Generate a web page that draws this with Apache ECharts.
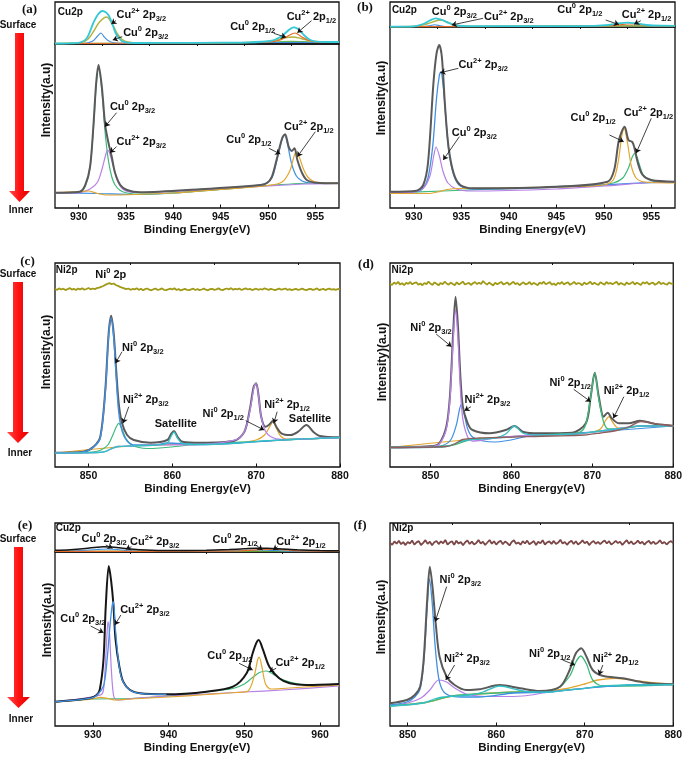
<!DOCTYPE html>
<html>
<head>
<meta charset="utf-8">
<script src="https://cdn.jsdelivr.net/npm/echarts@6/dist/echarts.min.js"></script>
<style>
html, body { margin: 0; padding: 0; background: #fff; }
#main { width: 685px; height: 757px; }
</style>
</head>
<body>
<div id="main"></div>
<script>
// tick labels
var ticksCu = [930, 935, 940, 945, 950, 955];
var minorCu = [932.5, 937.5, 942.5, 947.5, 952.5];
var ticksNi = [850, 860, 870, 880];
var minorNi = [855, 865, 875];
var ticksCuE = [930, 940, 950, 960];
var minorCuE = [935, 945, 955];

// (a) surface strip
var aTopSum = [[927.5,0.5],[929,0.7],[930,1.2],[930.85,5.7],[931.55,21],[932,29],[932.5,33],[932.9,31.5],[933.2,28],[933.6,19],[933.9,11],[934.3,5.5],[934.6,2.8],[935.2,1.4],[936.5,1],[940,1.1],[945,1.3],[948,1.6],[950.2,3],[951,5.5],[951.6,9],[952.2,14],[952.7,16.7],[953.1,15.5],[953.5,12],[953.9,8],[954.3,5],[954.8,3],[955.5,2.2],[957.5,2]];
var aTopOlive = [[927.5,0.5],[929,0.7],[930.3,1.5],[931,5],[931.6,13],[932.2,22],[932.95,27],[933.6,19],[934.1,10],[934.6,4.5],[935.2,2],[936.5,1],[940,1.1],[945,1.3],[948,1.6],[950.5,3],[951.5,5.5],[952.6,7],[953.5,5.5],[954.5,3],[955.5,2.2],[957.5,2]];
var aTopBlue = [[927.5,0.4],[930.5,0.5],[931.5,3],[932,8],[932.35,11],[932.7,7],[933.1,3.5],[933.6,1.5],[934.5,0.6],[940,0.8],[950,1.5],[957.5,1.8]];
var aTopOrange = [[927.5,0.4],[940,1],[948,1.5],[950,1.8],[951.3,4],[952.2,8.5],[952.85,11],[953.5,7.5],[954.2,4],[955,2.4],[956,2],[957.5,2]];
var aTopGreen = [[927.5,0.4],[935,0.7],[945,1.2],[950,1.8],[952.5,2.6],[955,2],[957.5,2]];
// (a) inner
var aInSum = [[927.5,15.3],[930.1,16.3],[930.7,23],[931.2,41],[931.55,81],[931.85,125],[932.1,143],[932.45,121],[932.8,83],[933.15,65],[933.5,51],[933.85,35],[934.4,23],[935.1,18],[936.5,15.7],[942.8,18.7],[949.2,23],[949.9,25],[950.4,31],[950.9,48],[951.5,70],[951.8,73.7],[952.2,61],[952.5,57],[952.8,59.7],[953.1,48],[953.6,35],[954.1,28],[955.1,25.3],[957.5,24.7]];
var aInGreen = [[927.5,15.3],[930.1,15.8],[930.7,22],[931.2,40],[931.55,79],[931.85,122],[932.1,140],[932.45,117],[932.8,75],[933.15,47],[933.5,31],[933.85,23],[934.4,17.5],[935.1,15],[936.5,13.8],[940,15],[945,18.5],[950,22.5],[955,25],[957.5,25]];
var aInPurple = [[927.5,15],[929.9,15.2],[931.2,19],[932,26],[932.5,40],[932.85,53],[933.05,58],[933.3,54],[933.7,40],[934.2,25],[934.8,18],[936,15.5],[940,16.5],[945,19],[950,22],[954,24],[957.5,24.7]];
var aInBlue = [[927.5,15.3],[932,14.5],[936,13.5],[940,15],[944,18],[947,21],[949.5,24],[950.4,30],[950.9,46],[951.5,69],[951.75,73],[952.1,62],[952.5,44],[953,32],[953.6,27],[954.5,25],[957.5,24.5]];
var aInOrange = [[927.5,15.3],[930,16.3],[931,17],[932,14.5],[933,13],[936,13.5],[940,15],[945,18.5],[950,22.5],[951.5,26],[952.3,37],[952.7,50],[952.95,56],[953.3,51],[953.7,40],[954.2,31],[955,26],[957.5,25]];

// (b) surface strip
var bTopSum = [[927.5,0.3],[930,0.7],[931,3],[931.7,6.5],[932.3,8.7],[933,7],[933.7,4],[934.5,1.5],[936,0.8],[945,0.9],[949,1.2],[950.5,2],[951.5,3.5],[952.5,4.3],[953.5,3.5],[954.5,2],[956,1.3],[957.5,1.2]];
var bTopOlive = [[927.5,0.3],[929.5,0.5],[930.5,1],[931.5,3.5],[932.3,6],[932.8,7],[933.5,5],[934.3,2],[935.5,0.8],[937,0.6],[950,1],[957.5,1.2]];
var bTopBlue = [[927.5,0.3],[931,0.5],[931.7,1.3],[932.2,2.2],[932.8,1.2],[933.5,0.4],[945,0.8],[957.5,1.1]];
var bTopOrange = [[927.5,0.3],[940,0.6],[950,1],[951.5,2],[952.5,3],[953.3,3],[954.3,2],[955.5,1.3],[957.5,1.2]];
var bTopGreen = [[927.5,0.3],[940,0.6],[950,1],[957.5,1.2]];
// (b) inner
var bInSum = [[927.5,16.3],[930.3,17.3],[931,23],[931.5,45],[932.07,124.7],[932.4,154.7],[932.68,163],[932.96,151],[933.3,101],[933.66,61],[934.2,34.7],[934.9,23],[936.3,19.7],[945,21.3],[950.4,26.3],[951.1,38],[951.6,68],[952.2,81.3],[952.6,68],[953,66],[953.2,61.3],[953.6,44.7],[954.1,33],[955,28],[957.5,26.3]];
var bInBlue = [[927.5,16],[930.3,16.5],[931,20],[931.5,30],[932,62],[932.4,110],[932.7,133],[932.85,136],[933.1,122],[933.4,88],[933.7,57],[934.2,33],[934.9,22],[936.3,19],[940,19.3],[945,21],[950,23],[955,25.5],[957.5,26]];
var bInPurple = [[927.5,15.5],[929.5,15.5],[931,20],[931.7,32],[932.1,52],[932.35,61],[932.7,52],[933.1,36],[933.6,25],[934.5,19],[936,17],[945,19],[950,22],[955,25.5],[957.5,26]];
var bInOrange = [[927.5,14.5],[931.5,14.5],[932.5,16],[933.5,18.5],[935,19.5],[945,21],[950,23],[951,28],[951.5,45],[951.9,72],[952.15,79.7],[952.5,65],[952.9,42],[953.4,30],[954,26.5],[955,25.5],[957.5,25]];
var bInGreen = [[927.5,15],[933,17],[940,19.5],[945,21],[949,22.5],[951,25],[952,30],[952.6,40],[953,51],[953.3,54.7],[953.7,45],[954.1,34],[954.8,28],[956,26],[957.5,26]];

// (c)
var cSum = [[846,14.3],[849.4,15.3],[850.6,20.3],[851.4,30.3],[852,77],[852.4,133.7],[852.7,151.3],[853,133.7],[853.3,97],[853.6,63.7],[854,43.7],[854.6,32],[855.4,27],[857.4,24.3],[859.4,27],[859.9,33.7],[860.2,36],[860.6,30.3],[861.2,25.3],[863.4,24.3],[867.4,26.3],[868.6,35.3],[869.3,60.3],[869.7,80.3],[870,83.7],[870.3,70.3],[870.6,50.3],[871.1,40.3],[871.5,42],[872,46],[872.4,40.3],[873,33.7],[874.1,32],[875,35.3],[876,42],[876.8,35.3],[877.6,31],[880,29.7]];
var cBlue = [[846,14],[849.4,15],[850.6,20],[851.4,29],[852,75],[852.4,131],[852.7,149],[853,130],[853.3,90],[853.6,55],[854,36],[854.6,26],[855.4,22],[858,22],[859.4,24],[863,22.5],[868,24],[873,27],[877,28.5],[880,29.5]];
var cGreen = [[846,13.8],[850.5,15],[851.5,17],[852.3,22],[852.9,32],[853.3,40],[853.6,43.7],[854,38],[854.5,28],[855.2,22],[856,19.5],[857,18.5],[863,22.5],[870,25.5],[880,29.5]];
var cTeal = [[846,13.8],[851,14.5],[852,15.5],[852.6,18],[853.5,20.5],[855,21],[858,22],[859.4,24],[859.9,31.5],[860.2,35],[860.6,29],[861.2,23.5],[863,22.5],[868,24],[870,25.5],[873,27],[875,28],[877,28.5],[880,29.5]];
var cPurple = [[846,13.8],[851,14.5],[852,15.5],[853.5,20.5],[855,21],[858,22],[863,22.5],[866,24.5],[868,29],[868.8,40],[869.4,63],[869.75,80],[870,83.7],[870.3,70],[870.6,50],[871.1,36],[871.8,30],[873,27.5],[875,28],[877,28.5],[880,29.5]];
var cOrange = [[846,14],[855,21],[862,23],[868,24.5],[870,27],[871,32],[871.6,40],[872,45],[872.4,39],[872.9,31],[873.6,28],[875,28],[880,29.5]];
var cNoise = [178.0,177.2,178.6,177.5,178.3,176.9,177.8,178.9,177.4,178.1,
 177.0,178.4,177.6,178.8,177.3,178.0,179.0,177.7,178.5,177.9,
 178.8,179.4,180.2,181.0,182.1,183.2,183.8,182.9,183.5,182.0,
 181.2,180.1,179.3,178.6,177.8,178.5,177.2,178.0,177.6,178.7,
 177.1,178.2,176.8,177.9,178.5,177.3,176.7,177.8,178.4,177.0,
 177.6,178.6,177.2,176.9,177.7,178.3,177.5,178.8,177.0,177.9,
 176.6,177.4,178.1,177.2,176.8,177.6,178.3,177.0,177.8,176.9,
 177.5,178.4,177.3,176.7,177.9,178.2,177.1,177.7,178.6,177.4,
 176.9,177.8,178.5,177.6,178.9,177.3,178.1,177.7,178.4,177.0,
 177.9,178.6,177.5,178.2,176.9,177.6,178.3,177.2,178.0,177.4,
 178.7,177.8,177.1,178.2,177.5,176.8,177.7,178.4,177.3,177.9,
 178.5,177.1,177.8,176.9,177.6,178.2,177.0,177.7,178.3,177.4,
 176.8,177.9,178.1,177.2,177.7,178.6,177.0,177.5,178.2,176.9,
 177.8,178.4,177.3,177.9,177.1,178.0,177.6];

// (d)
var dSum = [[845,19.7],[850.3,21],[851.1,23.7],[851.96,40.3],[852.4,70.3],[852.8,133.7],[853.1,170.3],[853.4,140.3],[853.7,90.3],[854,60.3],[854.6,43.7],[855.2,37],[857.3,33.7],[859.3,37],[860.4,41],[861.4,35.3],[863.4,33.7],[867.5,34.3],[869.2,43.7],[869.8,70.3],[870.3,94.3],[870.8,70.3],[871.4,50.3],[871.9,54.3],[872.4,48.7],[873.3,43.7],[874.5,43.7],[875.9,46.3],[877.8,43],[880,41.3]];
var dPurple = [[845,19.5],[850.3,20.5],[851.1,23],[851.96,38],[852.4,67],[852.8,125],[853.1,157.7],[853.4,128],[853.7,78],[854,48],[854.6,30],[855.2,26],[856.5,27],[858,29],[863,32],[868,33],[872,37],[876,41],[880,41]];
var dBlue = [[845,19.5],[850,20],[851.5,21.5],[852.5,27],[853.2,42],[853.6,58],[853.85,63],[854.2,52],[854.6,38],[855.2,30],[856.5,26],[858,25],[863,32],[870,35],[880,41]];
var dTeal = [[845,19.5],[851.5,20],[852.5,21.5],[853.5,25],[855,27.5],[858,29],[859.3,33],[860.4,41],[861.4,34],[863,32],[868,33],[870,35],[872,37],[874,39],[876,41],[878,41],[880,41]];
var dBrown = [[845,19.5],[852,20.5],[853,23],[854,27.5],[856,29],[865,31],[869,32],[871,34],[873,36.5],[874.5,40],[876,45.5],[878,43],[880,41]];
var dGreen = [[845,19.5],[852.5,21.5],[855,27.5],[858,29],[863,32],[866,33],[868.5,35],[869.2,43],[869.8,70],[870.3,94],[870.8,68],[871.4,45],[872,38],[873,38],[876,41],[880,41]];
var dOrange = [[845,19.5],[855,27.5],[863,32],[868,33],[870,35],[871,38],[871.6,46],[872.05,50.3],[872.5,45],[873.2,39],[874,39],[876,41],[880,41]];
var dNoise = [183.2,182.0,184.5,183.0,185.1,182.4,183.8,181.9,184.2,183.1,
 185.0,182.7,183.9,184.8,182.2,183.5,181.8,184.0,182.9,185.3,
 183.4,182.1,184.6,183.2,181.7,184.1,182.8,185.2,183.6,182.3,
 184.4,183.0,181.9,184.7,182.6,183.8,185.4,182.5,183.3,184.2,
 182.0,183.7,185.0,182.9,184.3,183.1,186.0,183.9,182.4,184.5,
 183.0,181.6,184.2,182.8,183.9,185.1,182.7,183.4,184.6,182.1,
 183.8,185.2,182.9,184.0,181.8,183.5,184.7,182.6,183.3,185.0,
 182.4,184.1,183.0,181.9,184.4,183.2,185.3,182.7,183.8,184.9,
 182.3,183.6,181.7,184.2,183.1,185.0,182.5,183.9,184.6,182.2,
 183.4,185.1,182.8,184.0,183.3,181.8,184.5,182.9,183.7,185.2,
 182.6,184.3,183.0,182.1,184.8,183.5,182.4,185.0,183.2,184.1,
 182.7,183.9,185.3,182.3,184.0,183.1,181.9,184.6,182.8,183.6,
 185.1,182.5,184.2,183.3,182.0,184.7,183.4,185.0,182.6,183.8,
 184.4,182.2,183.5,185.2,182.9,184.1,183.0,182.4,184.6,183.3,
 182.8];

// (e) surface strip
var eTopSum = [[925,1.8],[927,2.3],[929,3.5],[930.5,4.8],[931.4,5.3],[932.5,5],[933.5,4.2],[935,3],[937,2],[940,1.5],[945,1.8],[948,2.5],[950,3.2],[951.5,3.8],[953,3.7],[955,3],[957,2.2],[960,1.5],[962.5,1.2]];
var eTopBlue = [[925,0.6],[926,0.8],[928.5,1.5],[930.5,2.5],[932,3],[933.5,2.3],[935,1.2],[937,0.7],[947,0.8],[950,1.5],[952,2],[954,1.5],[956,0.8],[962.5,0.9]];
var eTopOrange = [[925,0.6],[945,0.8],[949,1],[951,1.8],[952.5,2.5],[954,2.8],[955.5,2],[957.5,1.1],[962.5,0.9]];
var eTopGreen = [[925,0.6],[945,0.8],[962.5,0.9]];
// (e) inner
var eInSum = [[925,24.3],[929.6,27.7],[930.5,31],[930.9,36],[931.4,66],[931.7,119.3],[932.1,160],[932.4,146],[932.7,122.7],[933,86],[933.5,59.3],[934,44.3],[934.9,36],[936.2,32.7],[939.7,31.7],[945,34.3],[948.5,39.3],[950.3,52.7],[951.1,72.7],[951.6,83.3],[951.9,86],[952.4,77.7],[953.3,59.3],[954.6,47.7],[956,42.7],[958.2,41],[962.5,42]];
var eInPurple = [[925,24],[930.5,30],[931.3,33],[931.6,55],[931.85,90],[932,104.3],[932.2,92],[932.45,55],[932.75,30],[933.2,26],[936,28],[940,30],[945,32],[950,34],[955,36],[962.5,40]];
var eInBlue = [[925,24.2],[929.6,27.6],[930.5,30.5],[931.4,40],[931.8,60],[932.2,95],[932.5,118],[932.7,124.3],[933,95],[933.5,58],[934,44],[934.9,35.8],[936.2,32.6],[939.7,31.7]];
var eInOrange = [[925,24],[930,27],[931,28.7],[932,27.5],[933,26],[935,27],[940,29],[945,31.5],[949,33.5],[950.5,35],[951.3,50],[951.75,66],[951.95,69],[952.3,60],[952.8,42],[953.5,37],[955,37.5],[958,39],[962.5,41]];
var eInGreen = [[925,24],[930,27],[935,27.5],[940,30],[946,35],[948.5,37.5],[950,42],[951,48],[952,53.5],[952.9,55],[954,51],[955,46.5],[956.5,43],[958.2,41],[962.5,42]];

// (f)
var fSum = [[848,22.7],[849.9,26],[850.8,31],[851.4,39.3],[851.8,66],[852.2,126],[852.5,159.3],[852.8,139.3],[853.2,99.3],[853.6,69.3],[854.4,49.3],[855.3,41],[856.6,36],[858.1,36.7],[860.4,41],[862.7,37.7],[864.9,35],[867.2,39.3],[868.3,56],[869,72.7],[869.6,77.7],[870.2,69.3],[870.9,56],[872,50.3],[874.3,47.7],[876.9,43.3],[880,41.7]];
var fBlue = [[848,21],[849.9,24],[850.8,29],[851.4,37],[851.8,62],[852.2,118],[852.45,147],[852.75,125],[853.1,80],[853.5,48],[854,35],[854.8,30],[856,29],[858,29],[862,33],[866,34],[870,37.7],[875,41],[880,41.5]];
var fPurple = [[848,20.5],[850,23],[851.5,28],[852.5,36],[853.5,46],[854.4,44],[855.3,38],[856.6,32],[858,30],[860,29.5],[863,30],[866,34],[870,37.7],[875,41],[880,41.5]];
var fTeal = [[848,20],[851,22],[852,23.5],[853,27],[854,29],[857,31],[858.5,34],[860.4,40],[862.5,36],[864,34],[866,34],[868,36],[870,37.7],[872,40],[875,41],[880,41.5]];
var fGreen = [[848,20],[852,23.5],[855,30],[860,33],[863,34],[865,34],[867,38],[868.3,50],[869,64],[869.55,70],[870.2,62],[870.9,46],[872,40],[874,40],[880,41.5]];
var fOrange = [[848,20],[852,23.5],[855,30],[858,32],[862,34],[866,35],[868,37.5],[870,42],[871.5,46],[873.5,47.7],[876,45],[878,43],[880,42]];
var fNoise = [183.0,181.2,184.6,182.3,185.2,181.8,183.9,180.9,184.1,182.5,
 185.5,181.4,183.6,184.9,181.0,183.2,185.8,182.1,184.3,180.8,
 183.7,185.0,181.9,184.6,182.7,186.1,181.5,183.4,184.8,181.2,
 185.3,182.4,184.0,180.7,183.8,185.6,182.0,184.4,181.6,183.1,
 185.9,182.6,184.2,181.1,183.5,186.0,182.3,184.7,181.4,183.9,
 185.2,181.8,184.5,182.9,180.6,184.1,185.7,182.2,183.6,181.3,
 184.8,182.5,185.4,181.7,183.3,184.9,181.0,184.3,182.8,185.8,
 181.5,183.7,184.6,182.1,185.1,181.9,183.4,186.2,182.4,184.0,
 181.2,183.8,185.3,182.0,184.7,181.6,183.2,185.6,182.7,184.4,
 180.9,183.5,185.0,182.2,184.1,181.8,183.9,185.5,182.5,184.8,
 181.4,183.1,185.2,182.9,184.3,181.1,183.6,185.9,182.3,184.6,
 181.7,183.0,185.4,182.6,184.2,181.3,183.8,185.1,182.1,184.5,
 181.9,183.3,185.7,182.4,184.0,181.5,183.7,184.9,182.8];

var FONT = '"Liberation Sans", Arial, sans-serif';
var COL = {
    sum: '#5a5a5a', black: '#161616', green: '#3dba7a', purple: '#b681e6', blue: '#3f8fe2',
    orange: '#e2a630', teal: '#33bfc4', brown: '#8e5d5d', cyan: '#35c8d6', olive: '#b3b13a',
    lime: '#6cbf3a', noise: '#a19a16', noiseF: '#7b4747'
};

function seq(start, step, vals) {
    return vals.map(function (v, i) { return [+(start + i * step).toFixed(2), v]; });
}

// grid boxes
var panels = [
    {l: 55, t: 2, w: 284, h: 42, x: [927.5, 957.5]},
    {l: 55, t: 44, w: 284, h: 164, x: [927.5, 957.5], ticks: ticksCu, minor: minorCu},
    {l: 390, t: 2, w: 285, h: 25, x: [927.5, 957.5]},
    {l: 390, t: 27, w: 285, h: 181, x: [927.5, 957.5], ticks: ticksCu, minor: minorCu},
    {l: 55, t: 263, w: 285, h: 204, x: [846, 880], ticks: ticksNi, minor: minorNi},
    {l: 390, t: 263, w: 285, h: 204, x: [845, 880], ticks: ticksNi, minor: minorNi},
    {l: 55, t: 523, w: 284, h: 29, x: [925, 962.5]},
    {l: 55, t: 552, w: 284, h: 174, x: [925, 962.5], ticks: ticksCuE, minor: minorCuE, gap: 16},
    {l: 390, t: 523, w: 285, h: 203, x: [848, 880], ticks: ticksNi, minor: minorNi}
];

var grids = [], xAxes = [], yAxes = [];
panels.forEach(function (p, i) {
    grids.push({left: p.l, top: p.t, width: p.w, height: p.h, show: true,
        borderColor: '#111', borderWidth: 1.3, backgroundColor: 'transparent'});
    yAxes.push({gridIndex: i, type: 'value', min: 0, max: p.h, show: false});
    if (p.ticks) {
        xAxes.push({gridIndex: i, type: 'value', min: p.x[0], max: p.x[1],
            axisLine: {show: false}, splitLine: {show: false},
            axisTick: {show: true, inside: true, length: 3.5, customValues: p.ticks, lineStyle: {color: '#111', width: 1}},
            axisLabel: {customValues: p.ticks, margin: 4, fontSize: 10.5, fontWeight: 'bold', color: '#111', fontFamily: FONT},
            name: 'Binding Energy(eV)', nameLocation: 'middle', nameGap: p.gap || 15,
            nameTextStyle: {fontSize: 11.5, fontWeight: 'bold', color: '#111', fontFamily: FONT}});
    } else {
        xAxes.push({gridIndex: i, type: 'value', min: p.x[0], max: p.x[1], show: false});
    }
});
// minor ticks on their own axes
panels.forEach(function (p, i) {
    if (!p.minor) return;
    xAxes.push({gridIndex: i, type: 'value', min: p.x[0], max: p.x[1],
        axisLine: {show: false}, splitLine: {show: false}, axisLabel: {show: false},
        axisTick: {show: true, inside: true, length: 2, customValues: p.minor, lineStyle: {color: '#111', width: 1}}});
});

var series = [];
function curve(g, data, color, width, z, sharp) {
    var s = {type: 'line', xAxisIndex: g, yAxisIndex: g, data: data, symbol: 'none',
        smooth: sharp ? false : 0.3, lineStyle: {color: color, width: width || 1.2},
        z: z || 2, silent: true};
    series.push(s);
    return s;
}

var RICH = {
    m: {fontSize: 11, fontWeight: 'bold', fontFamily: FONT, color: '#111', lineHeight: 16},
    n: {fontSize: 10, fontWeight: 'bold', fontFamily: FONT, color: '#111', lineHeight: 16},
    sp: {fontSize: 7.5, fontWeight: 'bold', fontFamily: FONT, color: '#111', lineHeight: 16, verticalAlign: 'top'},
    sb: {fontSize: 7.5, fontWeight: 'bold', fontFamily: FONT, color: '#111', lineHeight: 16, verticalAlign: 'bottom'}
};
function lab(el, sup, sub) {
    return '{m|' + el + '}{sp|' + sup + '}{m| 2p}' + (sub ? '{sb|' + sub + '}' : '');
}
function notes(s, list) {
    s.markPoint = {symbol: 'circle', symbolSize: 0, silent: true, animation: false,
        label: {show: true, position: 'right', distance: 0, rich: RICH},
        data: list.map(function (n) { return {coord: n.at, label: {formatter: n.t}}; })};
    var arrows = list.filter(function (n) { return n.from; });
    s.markLine = {symbol: ['none', 'arrow'], symbolSize: 5, silent: true, animation: false,
        label: {show: false}, lineStyle: {color: '#111', width: 0.8, type: 'solid'},
        data: arrows.map(function (n) { return [{coord: n.from}, {coord: n.to}]; })};
}

// (a)
curve(0, aTopGreen, COL.lime, 1.2);
curve(0, aTopBlue, COL.blue, 1.1);
curve(0, aTopOlive, COL.olive, 1.4);
curve(0, aTopOrange, '#e56a2a', 1.2);
notes(curve(0, aTopSum, COL.cyan, 1.8, 3), [
    {t: '{n|Cu2p}', at: [927.8, 32]},
    {t: lab('Cu', '2+', '3/2'), at: [934.0, 29], from: [933.95, 23.5], to: [933.45, 20]},
    {t: lab('Cu', '0', '3/2'), at: [934.7, 10.7], from: [934.6, 7.3], to: [933.6, 4]},
    {t: lab('Cu', '0', '1/2'), at: [946.0, 17.3], from: [950.6, 10.7], to: [951.9, 6.7]},
    {t: lab('Cu', '2+', '1/2'), at: [951.97, 27.3], from: [954.6, 23.3], to: [953.1, 11.3]}
]);
curve(1, aInBlue, COL.blue, 1.2);
curve(1, aInGreen, COL.green, 1.2);
curve(1, aInPurple, COL.purple, 1.2);
curve(1, aInOrange, COL.orange, 1.2);
notes(curve(1, aInSum, COL.sum, 2, 3), [
    {t: lab('Cu', '0', '3/2'), at: [933.3, 101.3], from: [934.0, 95.3], to: [932.78, 81.3]},
    {t: lab('Cu', '2+', '3/2'), at: [934.0, 66.3], from: [934.0, 61.3], to: [933.3, 55.3]},
    {t: lab('Cu', '0', '1/2'), at: [945.6, 68], from: [950.1, 59.7], to: [951.3, 54]},
    {t: lab('Cu', '2+', '1/2'), at: [951.7, 81.3], from: [955, 76.3], to: [953.1, 51.3]}
]);

// (b)
curve(2, bTopGreen, COL.lime, 1.2);
curve(2, bTopBlue, COL.blue, 1.1);
curve(2, bTopOlive, COL.olive, 1.4);
curve(2, bTopOrange, '#e56a2a', 1.2);
notes(curve(2, bTopSum, COL.cyan, 1.8, 3), [
    {t: '{n|Cu2p}', at: [927.7, 17]},
    {t: lab('Cu', '0', '3/2'), at: [931.9, 15.3]},
    {t: lab('Cu', '2+', '3/2'), at: [937.4, 10.3], from: [937.3, 8.7], to: [934.0, 2]},
    {t: lab('Cu', '0', '1/2'), at: [945.1, 17], from: [950.2, 7], to: [951.6, 2.5]},
    {t: lab('Cu', '2+', '1/2'), at: [951.9, 12], from: [953.9, 6.3], to: [953.2, 2.8]}
]);
curve(3, bInGreen, COL.green, 1.2);
curve(3, bInBlue, COL.blue, 1.3);
curve(3, bInPurple, COL.purple, 1.2);
curve(3, bInOrange, COL.orange, 1.2);
notes(curve(3, bInSum, COL.sum, 2, 3), [
    {t: lab('Cu', '2+', '3/2'), at: [934.7, 143], from: [934.7, 139.7], to: [932.8, 135.3]},
    {t: lab('Cu', '0', '3/2'), at: [934.0, 74.7], from: [934.8, 71.3], to: [933.1, 48]},
    {t: lab('Cu', '0', '1/2'), at: [946.5, 89.7], from: [950.6, 73], to: [952.1, 66.3]},
    {t: lab('Cu', '2+', '1/2'), at: [952.1, 94.7], from: [955.0, 89.7], to: [953.4, 54.7]}
]);

// (c)
curve(4, seq(846, 0.25, cNoise), COL.noise, 1.8, 2, true);
curve(4, cOrange, COL.orange, 1.2);
curve(4, cGreen, COL.green, 1.2);
notes(curve(4, cSum, COL.sum, 2, 3), [
    {t: '{n|Ni2p}', at: [846.1, 196.3]},
    {t: '{m|Ni}{sp|0}{m| 2p}', at: [850.8, 192]},
    {t: lab('Ni', '0', '3/2'), at: [854.0, 118.7], from: [854.0, 115.3], to: [853.2, 103.7]},
    {t: lab('Ni', '2+', '3/2'), at: [854.1, 67], from: [854.8, 60.3], to: [854.1, 43.7]},
    {t: '{m|Satellite}', at: [857.9, 43]},
    {t: lab('Ni', '0', '1/2'), at: [863.6, 53], from: [868.75, 46.3], to: [870.95, 37]},
    {t: lab('Ni', '2+', '1/2'), at: [870.95, 62], from: [872.5, 55.3], to: [872.1, 43.7]},
    {t: '{m|Satellite}', at: [873.9, 48]}
]);
curve(4, cBlue, COL.blue, 1.4, 3.5);
curve(4, cPurple, COL.purple, 1.3, 3.5);
curve(4, cTeal, COL.teal, 1.3, 4);

// (d)
curve(5, seq(845, 0.25, dNoise), COL.noise, 1.8, 2, true);
curve(5, dOrange, COL.orange, 1.2);
curve(5, dBlue, COL.blue, 1.2);
notes(curve(5, dSum, COL.sum, 2, 3), [
    {t: '{n|Ni2p}', at: [845.2, 196.3]},
    {t: lab('Ni', '0', '3/2'), at: [847.5, 138.7], from: [850.7, 133], to: [852.6, 120.3]},
    {t: lab('Ni', '2+', '3/2'), at: [854.2, 67], from: [855, 60.3], to: [854.2, 56.3]},
    {t: lab('Ni', '0', '1/2'), at: [864.7, 83.7], from: [867.7, 77.7], to: [869.8, 65.3]},
    {t: lab('Ni', '2+', '1/2'), at: [871.4, 76.3], from: [873.9, 70.3], to: [872.6, 48.7]}
]);
curve(5, dGreen, COL.green, 1.3, 3.5);
curve(5, dPurple, COL.purple, 1.3, 3.5);
curve(5, dTeal, COL.teal, 1.3, 4);
curve(5, dBrown, COL.brown, 1.3, 4.5);

// (e)
curve(6, eTopGreen, COL.lime, 1.4);
curve(6, eTopBlue, COL.blue, 1.1);
curve(6, eTopOrange, '#e56a2a', 1.2);
notes(curve(6, eTopSum, COL.black, 1.5, 3), [
    {t: '{n|Cu2p}', at: [925.1, 23.7]},
    {t: lab('Cu', '0', '3/2'), at: [928.5, 12.7], from: [931.7, 7], to: [932.6, 3.7]},
    {t: lab('Cu', '2+', '3/2'), at: [934.9, 10.3], from: [935.1, 5.3], to: [934.35, 2.7]},
    {t: lab('Cu', '0', '1/2'), at: [945.8, 12], from: [951.5, 7], to: [952.4, 2]},
    {t: lab('Cu', '2+', '1/2'), at: [954.2, 10.3], from: [954.4, 5.3], to: [953.8, 2]}
]);
curve(7, eInGreen, COL.green, 1.2);
curve(7, eInPurple, COL.purple, 1.2);
curve(7, eInOrange, COL.orange, 1.2);
notes(curve(7, eInSum, COL.black, 2, 3), [
    {t: lab('Cu', '2+', '3/2'), at: [933.6, 116], from: [933.7, 111], to: [932.9, 101]},
    {t: lab('Cu', '0', '3/2'), at: [925.7, 106.7], from: [929.7, 100], to: [931.4, 93.3]},
    {t: lab('Cu', '0', '1/2'), at: [945.1, 70], from: [949.3, 62.7], to: [951.1, 56]},
    {t: lab('Cu', '2+', '1/2'), at: [954.1, 63.3], from: [954.2, 57.7], to: [953.3, 54.3]}
]);
curve(7, eInBlue, COL.blue, 1.3, 4);

// (f)
curve(8, seq(848, 0.25, fNoise), COL.noiseF, 1.8, 2, true);
curve(8, fOrange, COL.orange, 1.3);
curve(8, fPurple, COL.purple, 1.2);
curve(8, fGreen, COL.green, 1.3);
curve(8, fBlue, COL.blue, 1.3);
notes(curve(8, fSum, COL.sum, 2, 3), [
    {t: '{n|Ni2p}', at: [848.2, 197.7]},
    {t: lab('Ni', '0', '3/2'), at: [853.6, 146], from: [854.4, 139.3], to: [853.1, 104.3]},
    {t: lab('Ni', '2+', '3/2'), at: [854.1, 66.7], from: [855.3, 61], to: [854.3, 46]},
    {t: lab('Ni', '0', '1/2'), at: [863.7, 72], from: [867.5, 66], to: [868.9, 61]},
    {t: lab('Ni', '2+', '1/2'), at: [870.9, 66.7], from: [872.05, 61], to: [871.6, 51]}
]);
curve(8, fTeal, COL.teal, 1.3, 4);

// decorations: panel letters, surface/inner arrows, y titles
var RED = {type: 'linear', x: 0, y: 0, x2: 1, y2: 0,
    colorStops: [{offset: 0, color: '#ff4a4a'}, {offset: 0.5, color: '#ff1212'}, {offset: 1, color: '#e00000'}]};
function txt(x, y, s, font, rot) {
    return {type: 'text', x: x, y: y, rotation: rot || 0, silent: true,
        style: {text: s, font: font, fill: '#111', textAlign: 'center', textVerticalAlign: 'middle', align: 'center', verticalAlign: 'middle'}};
}
var LETTER = 'bold 13px "Liberation Serif", "Times New Roman", serif';
var SMALL = 'bold 10px ' + FONT;
var YT = 'bold 12px ' + FONT;
var graphics = [
    txt(29.5, 10, '(a)', LETTER), txt(365, 8, '(b)', LETTER), txt(27.5, 262, '(c)', LETTER),
    txt(366, 265, '(d)', LETTER), txt(25, 526, '(e)', LETTER), txt(360, 526, '(f)', LETTER),
    txt(18, 25, 'Surface', SMALL), txt(21, 210, 'Inner', SMALL),
    txt(18, 274, 'Surface', SMALL), txt(20, 453, 'Inner', SMALL),
    txt(18, 539, 'Surface', SMALL), txt(21, 719, 'Inner', SMALL),
    txt(47, 100, 'Intensity(a.u)', YT, Math.PI / 2), txt(382, 98, 'Intensity(a.u)', YT, Math.PI / 2),
    txt(47, 352, 'Intensity(a.u)', YT, Math.PI / 2), txt(383, 362, 'Intensity)(a.u)', YT, Math.PI / 2),
    txt(48, 620, 'Intensity(a.u)', YT, Math.PI / 2), txt(382, 617, 'Intensity(a.u)', YT, Math.PI / 2),
    {type: 'polygon', silent: true, shape: {points: [[15,33],[24,33],[24,191],[30,191],[19.5,202],[9,191],[15,191]]}, style: {fill: RED}},
    {type: 'polygon', silent: true, shape: {points: [[13,282],[23,282],[23,432],[29,432],[18,443],[7,432],[13,432]]}, style: {fill: RED}},
    {type: 'polygon', silent: true, shape: {points: [[14,547],[23,547],[23,697],[30,697],[18.5,708],[7,697],[14,697]]}, style: {fill: RED}}
];

var chart = echarts.init(document.getElementById('main'), null, {renderer: 'canvas'});
chart.setOption({
    animation: false,
    backgroundColor: '#fff',
    grid: grids,
    xAxis: xAxes,
    yAxis: yAxes,
    series: series,
    graphic: graphics
});
</script>
</body>
</html>
